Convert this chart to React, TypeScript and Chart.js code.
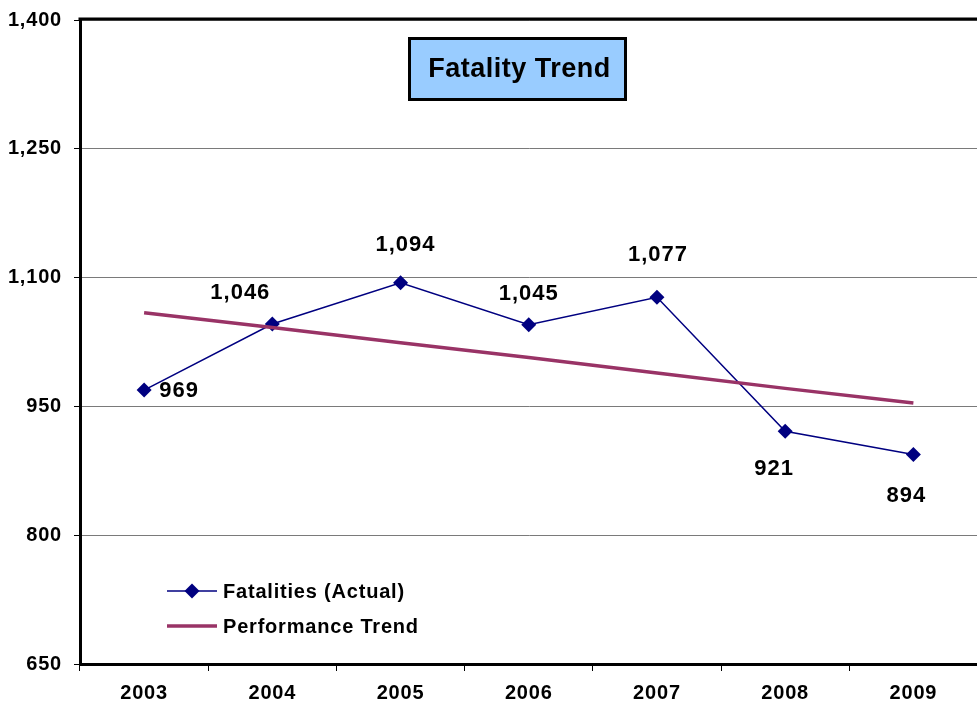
import React, { useEffect, useRef } from 'react';
import { Chart, registerables } from 'chart.js';

Chart.register(...registerables);

// ---- data ----
const YEARS: string[] = ['2003', '2004', '2005', '2006', '2007', '2008', '2009'];
const FATALITIES: number[] = [969, 1046, 1094, 1045, 1077, 921, 894];
const TREND: number[] = [1059, 1042, 1024, 1007, 989, 971, 954];
const Y_MIN = 650;
const Y_MAX = 1400;
const Y_STEP = 150;
const TITLE = 'Fatality Trend';
const SERIES_NAMES: string[] = ['Fatalities (Actual)', 'Performance Trend'];

// ---- layout constants (label offsets from their points, px) ----
const LABEL_OFFSETS: [number, number][] = [
  [35, 1],
  [-32, -31],
  [5, -38],
  [0, -31],
  [1, -42],
  [-11, 38],
  [-7, 41],
];

const FONT = 'Arial, "Liberation Sans", sans-serif';
const NAVY = '#000080';
const MAROON = '#993366';
const fmt = (v: number) => Number(v).toLocaleString('en-US');

function diamond(ctx: CanvasRenderingContext2D, x: number, y: number, r: number) {
  ctx.beginPath();
  ctx.moveTo(x, y - r);
  ctx.lineTo(x + r, y);
  ctx.lineTo(x, y + r);
  ctx.lineTo(x - r, y);
  ctx.closePath();
  ctx.fill();
}

const decorPlugin = {
  id: 'decor',
  beforeDraw(chart: any) {
    (chart.ctx as any).letterSpacing = '0.8px';
  },
  afterDraw(chart: any) {
    const ctx: CanvasRenderingContext2D = chart.ctx;
    const ca = chart.chartArea;
    ctx.save();

    // top border of plot area
    ctx.strokeStyle = '#000';
    ctx.lineWidth = 3;
    ctx.beginPath();
    ctx.moveTo(ca.left - 1.5, ca.top - 1);
    ctx.lineTo(ca.right, ca.top - 1);
    ctx.stroke();

    // title box
    const bx = 409.5, by = 38.5, bw = 216, bh = 61;
    ctx.fillStyle = '#99CCFF';
    ctx.fillRect(bx, by, bw, bh);
    ctx.strokeStyle = '#000';
    ctx.lineWidth = 3;
    ctx.strokeRect(bx, by, bw, bh);
    ctx.fillStyle = '#000';
    (ctx as any).letterSpacing = '0.5px';
    ctx.font = `bold 27px ${FONT}`;
    ctx.textAlign = 'center';
    ctx.textBaseline = 'middle';
    ctx.fillText(TITLE, bx + bw / 2 + 2, by + bh / 2 + 1);

    // data labels
    (ctx as any).letterSpacing = '1px';
    ctx.font = `bold 22px ${FONT}`;
    const meta = chart.getDatasetMeta(0);
    meta.data.forEach((pt: any, i: number) => {
      const off = LABEL_OFFSETS[i] || [0, -30];
      ctx.fillText(fmt(FATALITIES[i]), pt.x + off[0], pt.y + off[1]);
    });

    // legend
    const lx = 167, lw = 50, ly1 = 591, ly2 = 626, tx = 223;
    ctx.strokeStyle = NAVY;
    ctx.lineWidth = 1.5;
    ctx.beginPath();
    ctx.moveTo(lx, ly1);
    ctx.lineTo(lx + lw, ly1);
    ctx.stroke();
    ctx.fillStyle = NAVY;
    diamond(ctx, lx + 25, ly1, 7.5);
    ctx.strokeStyle = MAROON;
    ctx.lineWidth = 3.5;
    ctx.beginPath();
    ctx.moveTo(lx, ly2);
    ctx.lineTo(lx + lw, ly2);
    ctx.stroke();
    ctx.fillStyle = '#000';
    (ctx as any).letterSpacing = '0.8px';
    ctx.font = `bold 20px ${FONT}`;
    ctx.textAlign = 'left';
    ctx.fillText(SERIES_NAMES[0], tx, ly1 + 1);
    ctx.fillText(SERIES_NAMES[1], tx, ly2 + 1);

    ctx.restore();
  },
};

export default function App() {
  const ref = useRef<HTMLCanvasElement | null>(null);

  useEffect(() => {
    if (!ref.current) return;
    const chart = new Chart(ref.current, {
      type: 'line',
      data: {
        labels: YEARS,
        datasets: [
          {
            label: SERIES_NAMES[0],
            data: FATALITIES,
            borderColor: NAVY,
            backgroundColor: NAVY,
            borderWidth: 1.5,
            pointStyle: 'rectRot',
            pointRadius: 7.5,
            pointBackgroundColor: NAVY,
            pointBorderColor: NAVY,
            pointBorderWidth: 0,
            tension: 0,
            order: 1,
          },
          {
            label: SERIES_NAMES[1],
            data: TREND,
            borderColor: MAROON,
            backgroundColor: MAROON,
            borderWidth: 3.5,
            pointRadius: 0,
            tension: 0,
            order: 0,
          },
        ],
      },
      options: {
        animation: false,
        responsive: false,
        layout: { padding: { top: 17, right: 0, bottom: 0, left: 0 } },
        plugins: {
          legend: { display: false },
          title: { display: false },
          tooltip: { enabled: false },
        },
        scales: {
          x: {
            type: 'category',
            offset: true,
            grid: {
              display: true,
              drawOnChartArea: false,
              drawTicks: true,
              tickLength: 7,
              offset: true,
              color: '#000',
              lineWidth: 1,
            },
            border: { display: true, color: '#000', width: 3 },
            ticks: {
              color: '#000',
              font: { family: FONT, size: 20, weight: 'bold' },
              padding: 10,
              maxRotation: 0,
            },
            afterFit: (scale: any) => {
              scale.height = 47;
            },
          },
          y: {
            min: Y_MIN,
            max: Y_MAX,
            grid: {
              color: '#7a7a7a',
              lineWidth: 1,
              drawTicks: true,
              tickLength: 6,
              tickColor: '#000',
            },
            border: { display: true, color: '#000', width: 3 },
            ticks: {
              stepSize: Y_STEP,
              color: '#000',
              font: { family: FONT, size: 20, weight: 'bold', lineHeight: 0.8 },
              padding: 12,
              callback: (v: any) => fmt(v),
            },
            afterFit: (scale: any) => {
              scale.width = 80;
            },
          },
        },
      } as any,
      plugins: [decorPlugin],
    });
    return () => chart.destroy();
  }, []);

  return (
    <div
      style={{
        position: 'fixed',
        left: 0,
        top: 0,
        width: 977,
        height: 711,
        overflow: 'hidden',
        background: '#fff',
      }}
    >
      <canvas ref={ref} width={985} height={711} style={{ display: 'block', width: 985, height: 711 }} />
    </div>
  );
}
